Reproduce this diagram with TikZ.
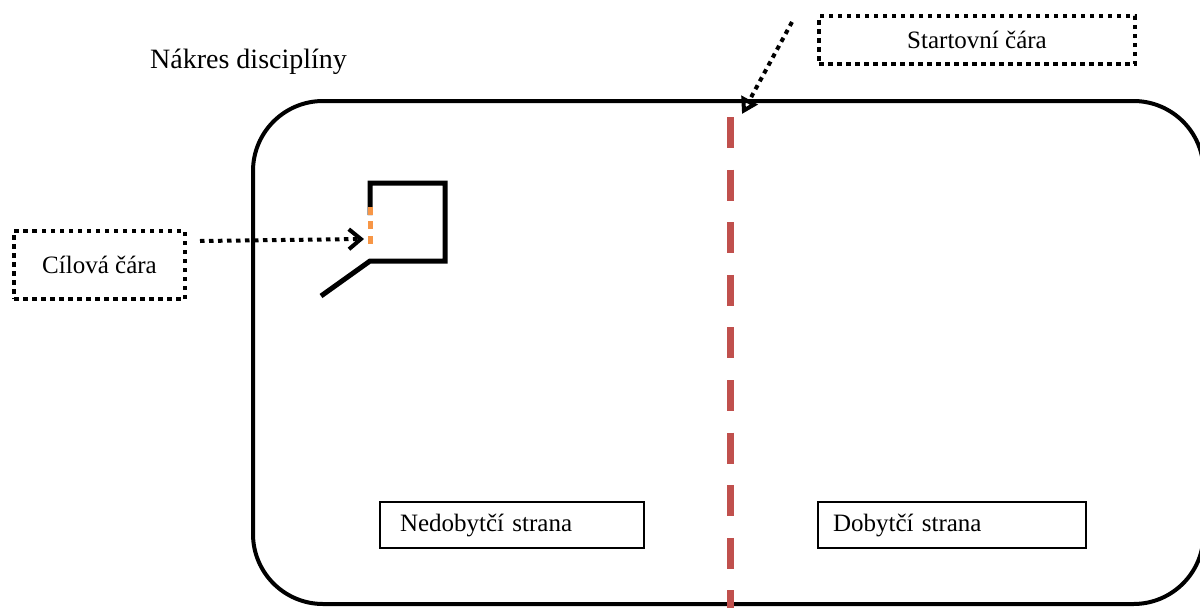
\documentclass[tikz,border=0pt]{standalone}
\usepackage{fontspec}
\setmainfont{Liberation Serif}
\usetikzlibrary{arrows.meta}
\definecolor{dashred}{HTML}{C0504D}
\definecolor{gateorange}{HTML}{F79646}
\newcommand{\lblfont}{\fontsize{25}{30}\selectfont}
\newcommand{\ttlfont}{\fontsize{28}{34}\selectfont}
\tikzset{rim/.style = {line width=4pt, rounded corners=70pt},
         pen/.style = {line width=5pt},
         gate/.style = {line width=5pt, gateorange},
         startline/.style = {line width=7pt, dashred},
         dotbox/.style = {draw, line width=4pt, dash pattern=on 4.5pt off 4.5pt,
                          anchor=north west, inner sep=0pt, font=\lblfont},
         sidebox/.style = {draw, line width=2pt, anchor=north west, align=left,
                           minimum height=46pt, font=\lblfont},
         pointer/.style = {line width=4pt, dash pattern=on 4.5pt off 4.5pt}}

\begin{document}
\begin{tikzpicture}[x=1pt,y=-1pt]
    \useasboundingbox (0,0) rectangle (1200,608);
    \node [anchor=base west, inner sep=0pt, font=\ttlfont] (title) at (150,68) {Nákres disciplíny};
    % playing field
    \draw [rim] (253,101) rectangle (1203.5,604);
    % pen with the finish gate
    \draw [pen] (370,215) -- (370,183) -- (445,183) -- (445,261) -- (370,261) -- (321,296);
    \foreach \y in {207, 221, 236} {
      \draw [gate] (370,\y) -- ++(0,8);
    }
    % start line
    \foreach \i in {0,...,9} {
      \draw [startline] (730.5,{117+52.6*\i}) -- ++(0,31);
    }
    \node [dotbox, minimum width=171pt, minimum height=68pt] (cil) at (12,229) {Cílová čára};
    \node [dotbox, minimum width=316pt, minimum height=48pt] (start) at (817,14) {Startovní čára};
    \node [sidebox, text width=224pt, inner xsep=20pt] (nedob) at (379,501) {Nedobytčí strana};
    \node [sidebox, text width=238pt, inner xsep=15pt] (dob) at (817,501) {Dobytčí strana};
    \coordinate (cilTail) at (200,241);
    \coordinate (gateMid) at (364,239);
    \coordinate (startTail) at (792,22);
    \coordinate (lineTop) at (742,114);
    \draw [pointer, -{Straight Barb[length=12pt,width=20pt]}] (cilTail) -- (gateMid);
    \draw [pointer, -{Triangle[open,length=16pt,width=18pt]}] (startTail) -- (lineTop);
  \end{tikzpicture}
\end{document}
